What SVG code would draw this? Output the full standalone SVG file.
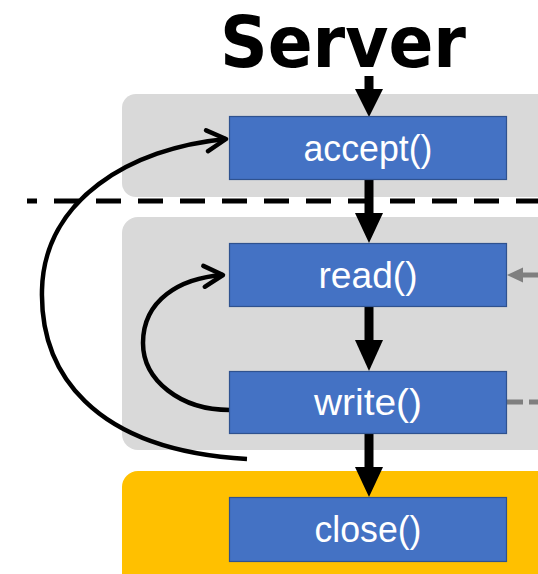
<svg xmlns="http://www.w3.org/2000/svg" width="538" height="574" viewBox="0 0 538 574">
  <style>
    .panel { fill: #D9D9D9; }
    .box { fill: #4472C4; stroke: #2F528F; stroke-width: 1.2; }
    .lbl { fill: #FFFFFF; font-family: "Liberation Sans", Arial, sans-serif; font-size: 36px; text-anchor: middle; }
    .flow { stroke: #000; stroke-width: 9; fill: none; }
    .head { fill: #000; }
    .loop { stroke: #000; stroke-width: 4.5; fill: none; }
    .gray { stroke: #7F7F7F; stroke-width: 5; fill: none; }
  </style>
  <defs>
    <marker id="open" markerUnits="userSpaceOnUse" viewBox="0 0 26 26" refX="23" refY="13" markerWidth="26" markerHeight="26" orient="auto">
      <path d="M4,2.5 L23,13 L4,23.5" fill="none" stroke="#000" stroke-width="4.5" stroke-linecap="round" stroke-linejoin="round"/>
    </marker>
  </defs>

  <rect width="538" height="574" fill="#FFFFFF"/>

  <text x="343" y="67" font-family="DejaVu Sans, Verdana, sans-serif" font-weight="bold" font-size="72" text-anchor="middle" textLength="246" lengthAdjust="spacingAndGlyphs">Server</text>

  <g id="panels">
    <rect class="panel" x="122" y="94" width="440" height="103" rx="14"/>
    <rect class="panel" x="122" y="217" width="440" height="233" rx="16"/>
    <rect x="122" y="471" width="440" height="130" rx="16" fill="#FFC000"/>
  </g>

  <line x1="27" y1="201" x2="538" y2="201" stroke="#000" stroke-width="5" stroke-dasharray="25 17" stroke-dashoffset="15"/>

  <g id="connectors">
    <line class="flow" x1="369" y1="76" x2="369" y2="90"/>
    <polygon class="head" points="355,89 383,89 369,117"/>
    <line class="flow" x1="369" y1="180" x2="369" y2="214"/>
    <polygon class="head" points="355,213 383,213 369,243"/>
    <line class="flow" x1="369" y1="307" x2="369" y2="341"/>
    <polygon class="head" points="355,340 383,340 369,371"/>
    <line class="flow" x1="369" y1="433" x2="369" y2="468"/>
    <polygon class="head" points="355,467 383,467 369,497"/>

    <path class="loop" d="M230,410 C180,410 143,380 143,343 C143,300 180,278 223,275" marker-end="url(#open)"/>
    <path class="loop" d="M247,459 C90,450 40,370 42,290 C44,200 130,148 226,139" marker-end="url(#open)"/>

    <line class="gray" x1="520" y1="275" x2="538" y2="275"/>
    <polygon points="507,275 523,267.5 523,282.5" fill="#7F7F7F"/>
    <line class="gray" x1="506" y1="402" x2="538" y2="402" stroke-dasharray="17 6"/>
  </g>

  <g id="accept">
    <rect class="box" x="229.5" y="116.5" width="277" height="63"/>
    <text class="lbl" x="368" y="161" textLength="129" lengthAdjust="spacingAndGlyphs">accept()</text>
  </g>
  <g id="read">
    <rect class="box" x="229.5" y="243.5" width="277" height="63"/>
    <text class="lbl" x="368" y="288" textLength="99" lengthAdjust="spacingAndGlyphs">read()</text>
  </g>
  <g id="write">
    <rect class="box" x="229.5" y="371.5" width="277" height="62"/>
    <text class="lbl" x="368" y="415" textLength="108" lengthAdjust="spacingAndGlyphs">write()</text>
  </g>
  <g id="close">
    <rect class="box" x="229.5" y="497.5" width="277" height="64"/>
    <text class="lbl" x="368" y="542" textLength="107" lengthAdjust="spacingAndGlyphs">close()</text>
  </g>
</svg>
